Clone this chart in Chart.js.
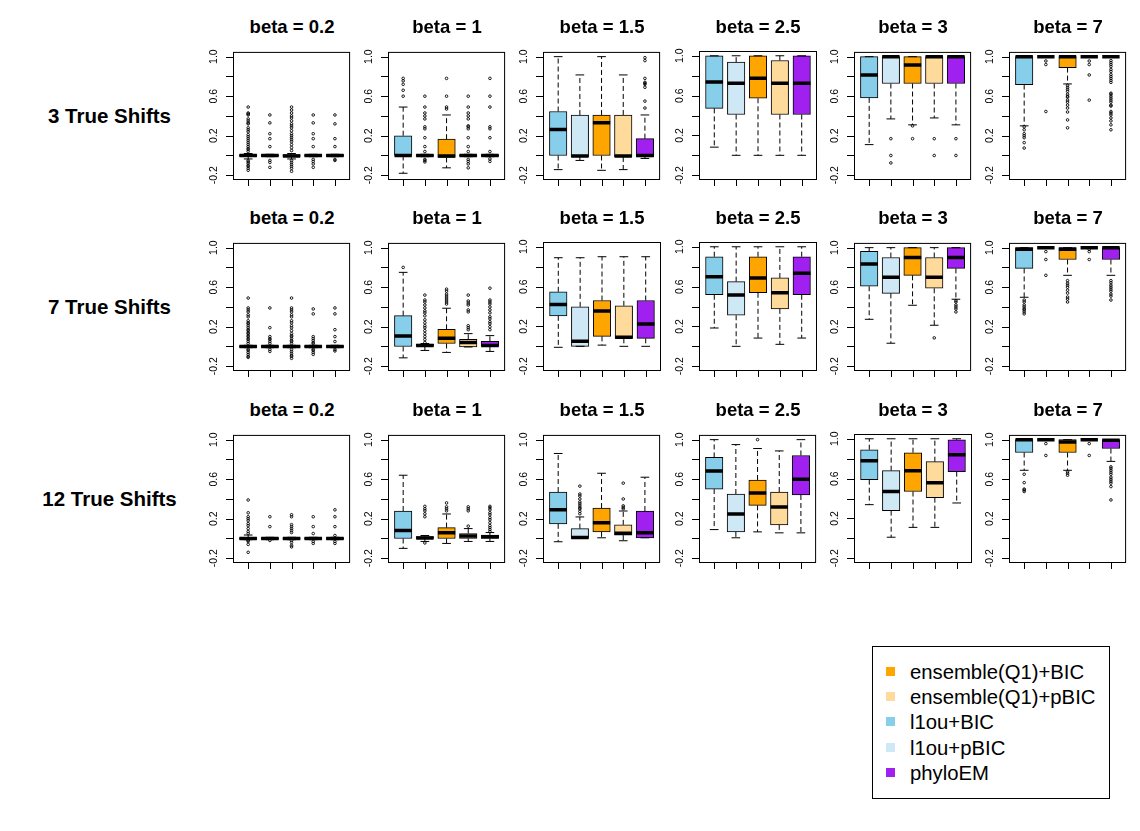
<!DOCTYPE html>
<html>
<head>
<meta charset="utf-8">
<script src="https://cdn.jsdelivr.net/npm/chart.js@4.4.1/dist/chart.umd.min.js"></script>
<style>
body{margin:0;background:#fff;width:1140px;height:831px;position:relative;overflow:hidden;font-family:"Liberation Sans",Arial,sans-serif;color:#000}
canvas,.t,.r,.lg,.li,.sq{position:absolute}
.t{font-weight:bold;font-size:18.5px;line-height:20px;text-align:center;width:180px;white-space:nowrap}
.r{font-weight:bold;font-size:20.5px;line-height:24px;text-align:center;width:200px;left:9.5px;white-space:nowrap}
.lg{left:872px;top:646px;width:236px;height:151px;border:1px solid #000}
.li{font-size:20.3px;line-height:25.35px;left:910px;white-space:nowrap}
.sq{width:9px;height:9px}
</style>
</head>
<body>
<script>
const methods = ['l1ou+BIC', 'l1ou+pBIC', 'ensemble(Q1)+BIC', 'ensemble(Q1)+pBIC', 'phyloEM'];
const colors = ['#87CEEB', '#CFE8F5', '#FFA500', '#FFDB9B', '#A020F0'];
const legendOrder = [2, 3, 0, 1, 4];
const betas = ['0.2', '1', '1.5', '2.5', '3', '7'];
const rowLabels = ['3 True Shifts', '7 True Shifts', '12 True Shifts'];
const yTicks = [-0.2, 0, 0.2, 0.4, 0.6, 0.8, 1.0];
const yLabels = [-0.2, 0.2, 0.6, 1.0];

// each box: [lower whisker, Q1, median, Q3, upper whisker]
const Z = [-0.012, -0.01, 0, 0.01, 0.012];
const ONE = [1, 1, 1, 1, 1];
const stats3 = [
  [[-0.035, -0.01, 0, 0.01, 0.02], Z, [-0.035, -0.01, -0.005, 0.01, 0.02], Z, Z],
  [[-0.18, 0, 0, 0.2, 0.49], Z, [-0.125, -0.02, -0.005, 0.165, 0.41], Z, Z],
  [[-0.143, 0, 0.264, 0.445, 1.0], [-0.05, -0.015, -0.005, 0.41, 0.815], [-0.15, 0, 0.33, 0.41, 1.0], [-0.143, -0.015, -0.005, 0.41, 0.815], [-0.03, -0.015, 0, 0.17, 0.41]],
  [[0.082, 0.472, 0.737, 1.0, 1.0], [0, 0.41, 0.724, 0.936, 1.0], [0, 0.573, 0.775, 1.0, 1.0], [0, 0.41, 0.724, 0.953, 1.0], [0, 0.41, 0.724, 1.0, 1.0]],
  [[0.11, 0.583, 0.815, 1.0, 1.0], [0.37, 0.728, 1.0, 1.0, 1.0], [0.31, 0.728, 0.916, 1.0, 1.0], [0.38, 0.728, 1.0, 1.0, 1.0], [0.31, 0.728, 1.0, 1.0, 1.0]],
  [[0.3, 0.717, 1.0, 1.0, 1.0], ONE, [0.724, 0.889, 1.0, 1.0, 1.0], ONE, ONE]
];
const outs3 = [
  [[0.49, 0.43, 0.42, 0.41, 0.37, 0.35, 0.33, 0.32, 0.28, 0.26, 0.24, 0.21, 0.19, 0.17, 0.15, 0.13, 0.11, 0.09, 0.07, 0.06, 0.04, -0.05, -0.065, -0.08, -0.1, -0.11, -0.13, -0.15],
   [0.41, 0.33, 0.22, 0.17, 0.09, -0.05, -0.07, -0.12],
   [0.49, 0.46, 0.43, 0.4, 0.38, 0.35, 0.32, 0.3, 0.28, 0.25, 0.22, 0.2, 0.18, 0.16, 0.14, 0.11, 0.08, 0.05, -0.05, -0.07, -0.09, -0.11, -0.13, -0.16],
   [0.41, 0.33, 0.22, 0.17, 0.09, -0.04, -0.06, -0.085, -0.12],
   [0.41, 0.32, 0.17, 0.09, -0.04, -0.05]],
  [[0.78, 0.755, 0.72, 0.66, 0.6],
   [0.6, 0.49, 0.43, 0.4, 0.37, 0.29, 0.27, 0.18, 0.09, 0.04, -0.04, -0.05, -0.065],
   [0.78, 0.6, 0.49, 0.47],
   [0.6, 0.49, 0.43, 0.4, 0.37, 0.3, 0.29, 0.27, 0.18, 0.09, 0.04, -0.04, -0.06, -0.085, -0.125],
   [0.78, 0.6, 0.49, 0.29, 0.27, 0.18, 0.04, -0.035, -0.06]],
  [[], [], [], [], [0.99, 0.96, 0.78, 0.74, 0.73, 0.72, 0.69, 0.55, 0.48]],
  [[], [], [], [], []],
  [[], [0.17, 0.0, -0.075], [0.3, 0.17], [0.17, 0.0], [0.17, 0.0]],
  [[0.29, 0.26, 0.22, 0.2, 0.18, 0.13, 0.075],
   [0.956, 0.92, 0.445],
   [0.71, 0.69, 0.67, 0.65, 0.62, 0.6, 0.59, 0.56, 0.54, 0.51, 0.48, 0.44, 0.36, 0.28],
   [0.956, 0.92, 0.815, 0.56],
   [0.96, 0.94, 0.92, 0.9, 0.87, 0.85, 0.82, 0.8, 0.78, 0.76, 0.74, 0.63, 0.62, 0.6, 0.58, 0.56, 0.54, 0.51, 0.5, 0.445, 0.43, 0.41, 0.38, 0.35, 0.31, 0.26]]
];

const stats7 = [
  [Z, Z, Z, Z, Z],
  [[-0.115, 0, 0.106, 0.312, 0.75], [-0.04, 0, 0.01, 0.025, 0.03], [-0.06, 0.03, 0.083, 0.174, 0.387], [-0.005, -0.005, 0.04, 0.073, 0.13], [-0.05, 0, 0.01, 0.053, 0.11]],
  [[-0.01, 0.306, 0.42, 0.548, 0.89], [0, 0, 0.05, 0.397, 0.89], [0.012, 0.1, 0.356, 0.46, 0.9], [0, 0.08, 0.09, 0.407, 0.9], [0, 0.08, 0.225, 0.46, 0.9]],
  [[0.184, 0.518, 0.7, 0.9, 1.0], [0, 0.312, 0.515, 0.65, 1.0], [0.083, 0.538, 0.687, 0.9, 1.0], [0.02, 0.376, 0.538, 0.687, 1.0], [0.083, 0.518, 0.734, 0.9, 1.0]],
  [[0.275, 0.609, 0.835, 0.963, 1.0], [0.033, 0.538, 0.7, 0.9, 1.0], [0.417, 0.72, 0.9, 1.0, 1.0], [0.215, 0.589, 0.7, 0.9, 1.0], [0.478, 0.79, 0.9, 1.0, 1.0]],
  [[0.498, 0.79, 0.983, 1.0, 1.0], ONE, [0.72, 0.88, 0.983, 1.0, 1.0], ONE, [0.72, 0.88, 1.0, 1.0, 1.0]]
];
const outs7 = [
  [[0.49, 0.39, 0.37, 0.35, 0.32, 0.3, 0.26, 0.24, 0.23, 0.21, 0.19, 0.17, 0.16, 0.14, 0.13, 0.11, 0.1, 0.08, 0.07, 0.05, 0.03, -0.03, -0.04, -0.06, -0.08, -0.1, -0.11],
   [0.39, 0.19, 0.1, 0.08, 0.07, 0.05, 0.03, -0.03, -0.05],
   [0.49, 0.39, 0.37, 0.35, 0.32, 0.3, 0.26, 0.24, 0.21, 0.19, 0.16, 0.13, 0.11, 0.1, 0.08, 0.06, 0.05, 0.03, -0.03, -0.05, -0.07, -0.09, -0.1, -0.12],
   [0.38, 0.33, 0.1, 0.08, 0.06, 0.04, 0.03, -0.03, -0.04, -0.06, -0.08],
   [0.39, 0.33, 0.17, 0.1, 0.05, -0.03, -0.045]],
  [[0.8],
   [0.52, 0.47, 0.45, 0.42, 0.39, 0.36, 0.34, 0.31, 0.27, 0.24, 0.21, 0.19, 0.16, 0.13, 0.1, 0.07, 0.04],
   [0.58, 0.56, 0.53, 0.51, 0.49, 0.47, 0.45, 0.43],
   [0.52, 0.46, 0.44, 0.42, 0.37, 0.35, 0.21, 0.19, 0.17],
   [0.59, 0.47, 0.45, 0.43, 0.4, 0.37, 0.34, 0.3, 0.28, 0.25, 0.23, 0.2, 0.17]],
  [[], [], [], [], []],
  [[], [], [], [], []],
  [[], [], [], [0.087], [0.465, 0.45, 0.42, 0.4, 0.38, 0.35]],
  [[0.47, 0.45, 0.42, 0.4, 0.38, 0.37, 0.35, 0.33],
   [0.96, 0.88, 0.72],
   [0.666, 0.64, 0.62, 0.6, 0.57, 0.54, 0.5, 0.48, 0.45],
   [0.983, 0.96, 0.88],
   [0.666, 0.645, 0.62, 0.6, 0.58, 0.56, 0.53, 0.51, 0.47]]
];

const stats12 = [
  [[-0.012, -0.01, 0, 0.01, 0.035], Z, Z, Z, Z],
  [[-0.1, 0, 0.08, 0.278, 0.64], [-0.03, 0, 0.005, 0.02, 0.03], [-0.05, 0, 0.058, 0.11, 0.248], [-0.03, 0, 0.024, 0.05, 0.1], [-0.03, 0, 0.018, 0.035, 0.06]],
  [[-0.033, 0.148, 0.29, 0.47, 0.86], [0, 0, 0.01, 0.1, 0.218], [0.007, 0.067, 0.16, 0.308, 0.66], [-0.023, 0.034, 0.054, 0.138, 0.278], [0.007, 0.007, 0.057, 0.278, 0.62]],
  [[0.09, 0.5, 0.682, 0.82, 1.0], [0.007, 0.067, 0.248, 0.45, 0.95], [0.067, 0.335, 0.459, 0.592, 0.91], [0.057, 0.138, 0.318, 0.47, 0.886], [0.057, 0.44, 0.6, 0.84, 1.0]],
  [[0.338, 0.589, 0.78, 0.89, 1.0], [0.011, 0.278, 0.47, 0.68, 1.0], [0.11, 0.47, 0.68, 0.86, 1.0], [0.11, 0.408, 0.559, 0.77, 1.0], [0.355, 0.67, 0.84, 0.99, 1.0]],
  [[0.69, 0.87, 1.0, 1.0, 1.0], ONE, [0.69, 0.87, 0.977, 1.0, 1.0], ONE, [0.78, 0.91, 0.993, 1.0, 1.0]]
];
const outs12 = [
  [[0.39, 0.26, 0.22, 0.2, 0.18, 0.15, 0.13, 0.1, 0.07, 0.05, -0.02, -0.03, -0.06, -0.14],
   [0.22, 0.12, -0.02],
   [0.24, 0.22, 0.14, 0.12, 0.1, 0.08, 0.06, -0.02, -0.04, -0.07, -0.085],
   [0.22, 0.12, 0.05, -0.03, -0.05],
   [0.29, 0.22, 0.12, 0.03, -0.03, -0.05]],
  [[],
   [0.325, 0.3, 0.28, 0.25, 0.22, -0.045],
   [0.36, 0.32, 0.3, 0.28],
   [0.32, 0.3, 0.28, 0.125],
   [0.325, 0.31, 0.29, 0.26, 0.24, 0.21, 0.19, 0.16, 0.13, 0.11, 0.09, 0.07]],
  [[], [0.53, 0.45, 0.43, 0.4, 0.37, 0.35, 0.33, 0.31, 0.3, 0.275, 0.25], [], [0.56, 0.4, 0.33, 0.315, 0.3], []],
  [[], [], [1.0], [], []],
  [[], [], [], [], []],
  [[0.65, 0.565, 0.5, 0.49, 0.475], [0.96, 0.84], [0.675, 0.66, 0.64], [0.96, 0.84], [0.725, 0.71, 0.69, 0.67, 0.65, 0.62, 0.6, 0.58, 0.56, 0.525, 0.39]]
];

const rows = [[stats3, outs3], [stats7, outs7], [stats12, outs12]];
const rowTop = [51, 242, 434];
const colLeft = c => Math.round(232.6 + 155.3 * c);
const PW = 118, PH = 129, PADL = 40, PADR = 4, PADT = 4, PADB = 12;

// R-style box frame, ticks and rotated tick labels, placed through the chart's scales
const frame = {
  id: 'frame',
  afterDraw(ch) {
    const {ctx, chartArea: a, scales: {x, y}} = ch;
    ctx.save();
    ctx.strokeStyle = '#000';
    ctx.lineWidth = 1;
    ctx.strokeRect(a.left + 0.5, a.top + 0.5, a.right - a.left - 1, a.bottom - a.top - 1);
    ctx.beginPath();
    yTicks.forEach(v => {
      const py = Math.round(y.getPixelForValue(v)) + 0.5;
      ctx.moveTo(a.left, py); ctx.lineTo(a.left - 7, py);
    });
    methods.forEach((m, i) => {
      const px = Math.round(x.getPixelForValue(i + 1)) + 0.5;
      ctx.moveTo(px, a.bottom); ctx.lineTo(px, a.bottom + 6);
    });
    ctx.stroke();
    ctx.font = '10.5px "Liberation Sans", Arial, sans-serif';
    ctx.fillStyle = '#000';
    ctx.textAlign = 'center';
    ctx.textBaseline = 'middle';
    yLabels.forEach(v => {
      ctx.save();
      ctx.translate(a.left - 19, y.getPixelForValue(v));
      ctx.rotate(-Math.PI / 2);
      ctx.fillText(v.toFixed(1), 0, 0);
      ctx.restore();
    });
    ctx.restore();
  }
};

function makePanel(r, c) {
  const stats = rows[r][0][c], outs = rows[r][1][c];
  const left = colLeft(c), top = rowTop[r];
  const cv = document.createElement('canvas');
  cv.width = PW + PADL + PADR; cv.height = PH + PADT + PADB;
  cv.style.left = (left - PADL) + 'px'; cv.style.top = (top - PADT) + 'px';
  document.body.appendChild(cv);

  const t = document.createElement('div');
  t.className = 't';
  t.textContent = 'beta = ' + betas[c];
  t.style.left = (left + PW / 2 - 90) + 'px';
  t.style.top = (top - 34) + 'px';
  document.body.appendChild(t);

  const boxes = [], wh = [], caps = [], meds = [], pts = [];
  stats.forEach((s, i) => {
    const x = i + 1;
    boxes.push({x, y: [s[1], s[3]]});
    wh.push({x, y: s[3]}, {x, y: s[4]}, {x, y: null}, {x, y: s[1]}, {x, y: s[0]}, {x, y: null});
    caps.push({x: x - 0.2, y: s[4]}, {x: x + 0.2, y: s[4]}, {x, y: null}, {x: x - 0.2, y: s[0]}, {x: x + 0.2, y: s[0]}, {x, y: null});
    meds.push({x: x - 0.4, y: s[2]}, {x: x + 0.4, y: s[2]}, {x, y: null});
    (outs[i] || []).forEach(v => pts.push({x, y: v}));
  });
  const line = {type: 'line', pointRadius: 0, pointHitRadius: 0, borderColor: '#000', spanGaps: false, fill: false};

  new Chart(cv, {
    type: 'bar',
    data: {
      datasets: [
        {...line, data: meds, borderWidth: 3.5, borderCapStyle: 'butt', order: 0},
        {...line, data: caps, borderWidth: 1, order: 1},
        {type: 'line', data: pts, showLine: false, pointRadius: 1.3, pointBorderWidth: 0.9,
         pointBorderColor: '#000', pointBackgroundColor: 'rgba(0,0,0,0)', order: 2},
        {...line, data: wh, borderWidth: 1, borderDash: [5, 3], order: 3},
        {type: 'bar', data: boxes, backgroundColor: colors, borderColor: '#000', borderWidth: 1,
         borderSkipped: false, barThickness: 0.8 * PW / 5.4, order: 4}
      ]
    },
    options: {
      responsive: false,
      animation: false,
      events: [],
      layout: {padding: {left: PADL, right: PADR, top: PADT, bottom: PADB}},
      plugins: {legend: {display: false}, tooltip: {enabled: false}},
      scales: {
        x: {type: 'linear', min: 0.3, max: 5.7, display: false, offset: false},
        y: {type: 'linear', min: -0.248, max: 1.048, display: false}
      }
    },
    plugins: [frame]
  });
}

for (let r = 0; r < 3; r++) {
  const d = document.createElement('div');
  d.className = 'r';
  d.textContent = rowLabels[r];
  d.style.top = (rowTop[r] + PH / 2 + 7.3 - 19.1) + 'px';
  document.body.appendChild(d);
  for (let c = 0; c < 6; c++) makePanel(r, c);
}

const lg = document.createElement('div');
lg.className = 'lg';
document.body.appendChild(lg);
legendOrder.forEach((m, k) => {
  const base = 679.3 + 25.35 * k;
  const sq = document.createElement('div');
  sq.className = 'sq';
  sq.style.background = colors[m];
  sq.style.left = '886px';
  sq.style.top = (base - 12.6) + 'px';
  document.body.appendChild(sq);
  const li = document.createElement('div');
  li.className = 'li';
  li.textContent = methods[m];
  li.style.top = (base - 19.6) + 'px';
  document.body.appendChild(li);
});
</script>
</body>
</html>
